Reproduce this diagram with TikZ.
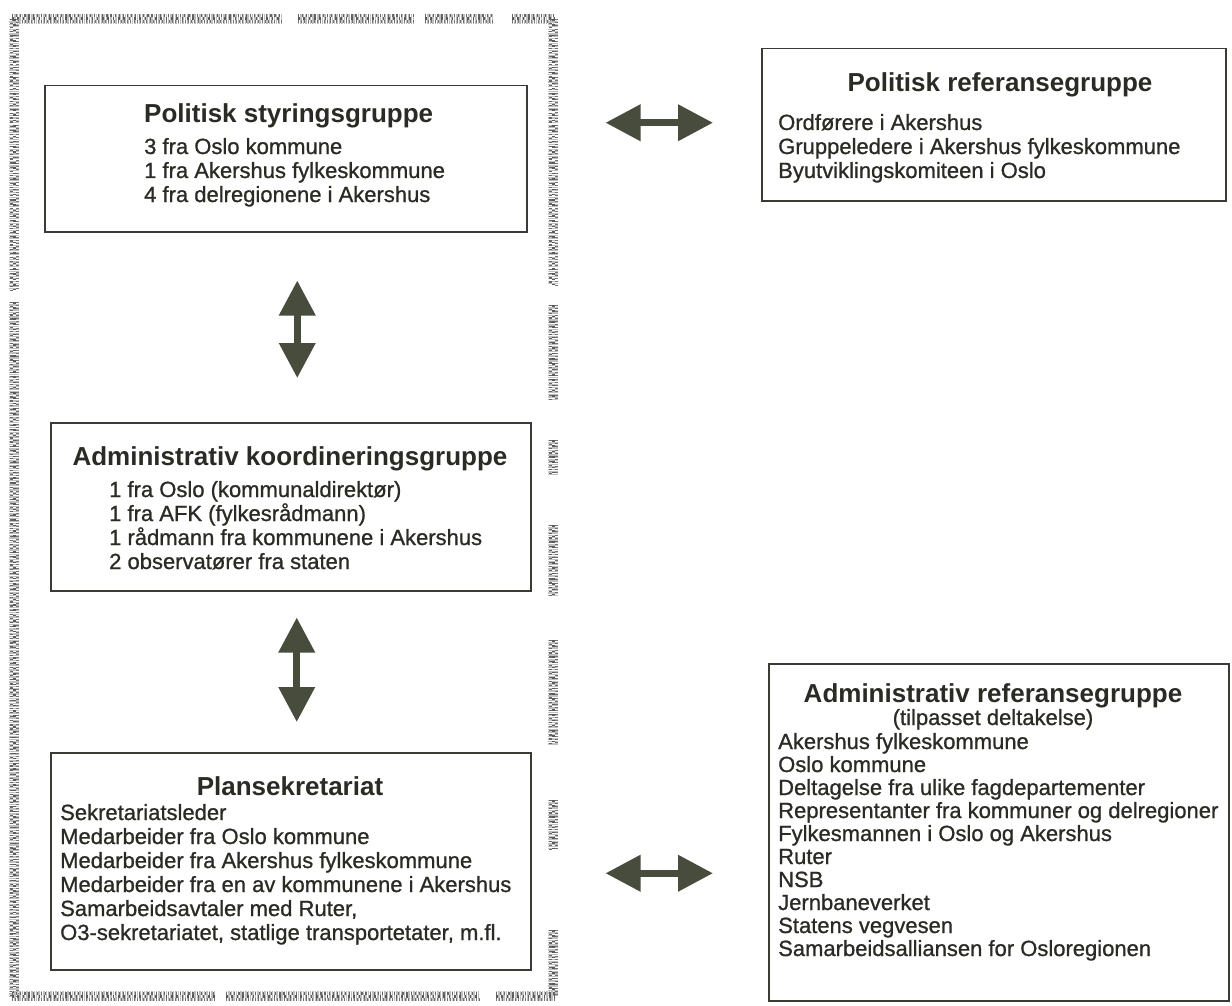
\documentclass[tikz,border=0pt]{standalone}
\usepackage{fontspec}
\setmainfont{Liberation Sans}
\newfontfamily\bodyfont{Liberation Sans}[FakeBold=0.9]
\usetikzlibrary{arrows.meta,calc}
\definecolor{ink}{HTML}{2A2B24}
\definecolor{arrowfill}{HTML}{474C3D}
\definecolor{frame}{HTML}{3A3A36}
\newcommand\grainH[3]{%
  \draw[grainA] (#1,#3) -- (#2,#3);
  \draw[grainB] (#1,#3-3) -- (#2,#3-3);
  \draw[grainC] (#1,#3+3) -- (#2,#3+3);
  \draw[grainD] (#1,#3) -- (#2,#3);}
\newcommand\grainV[3]{%
  \draw[grainA] (#3,#1) -- (#3,#2);
  \draw[grainB] (#3-3,#1) -- (#3-3,#2);
  \draw[grainC] (#3+3,#1) -- (#3+3,#2);
  \draw[grainD] (#3,#1) -- (#3,#2);}
\begin{document}
\begin{tikzpicture}[x=1pt,y=-1pt,
  box/.style={draw=frame, line width=1.5pt, fill=white, inner sep=0pt, anchor=north west},
  titletext/.style={font=\fontsize{26}{30}\selectfont\bfseries, text=ink, inner sep=0pt, anchor=base},
  bodytext/.style={font=\bodyfont\fontsize{22}{24}\selectfont, text=ink, inner sep=0pt, anchor=base west},
  dbl/.style={line width=7pt, draw=arrowfill, {Triangle[length=35pt,width=35pt]}-{Triangle[length=35pt,width=35pt]}},
  grainA/.style={line width=10pt, draw=black!25, dash pattern=on 1.3pt off 1.1pt},
  grainB/.style={line width=3pt, draw=black!60, dash pattern=on 1.2pt off 2.9pt},
  grainC/.style={line width=3pt, draw=black!55, dash pattern=on 0.9pt off 2.3pt},
  grainD/.style={line width=3pt, draw=black!65, dash pattern=on 1.6pt off 3.7pt},
]
\useasboundingbox (0,0) rectangle (1232,1006);
\fill[white] (0,0) rectangle (1232,1006);

% grainy frame round the left column
\foreach \a/\b in {12/282, 298/414, 425/493, 512/555}{\grainH{\a}{\b}{19}}
\foreach \a/\b in {19/290, 302/997}{\grainV{\a}{\b}{14}}
\foreach \a/\b in {19/285, 305/400, 440/475, 525/595, 640/745, 800/850, 930/997}{\grainV{\a}{\b}{553}}
\foreach \a/\b in {12/215, 226/480, 496/555}{\grainH{\a}{\b}{996}}

% boxes
\node[box, minimum width=482pt, minimum height=146pt] (ps) at (44,85) {};
\node[box, minimum width=480pt, minimum height=168pt] (ak) at (50,422) {};
\node[box, minimum width=480pt, minimum height=217pt] (pl) at (50,752) {};
\node[box, minimum width=464pt, minimum height=152pt] (rp) at (761,48) {};
\node[box, minimum width=460pt, minimum height=337pt] (ra) at (768,663) {};

% Politisk styringsgruppe
\node[titletext, anchor=base west] (ps-t) at (144,123) {Politisk styringsgruppe};
\foreach \t [count=\i from 0] in {3 fra Oslo kommune, 1 fra Akershus fylkeskommune, 4 fra delregionene i Akershus}
  \node[bodytext] (ps-\i) at (144,{154+24*\i}) {\t};

% Administrativ koordineringsgruppe
\node[titletext] (ak-t) at (290,465) {Administrativ koordineringsgruppe};
\foreach \t [count=\i from 0] in {1 fra Oslo (kommunaldirektør), 1 fra AFK (fylkesrådmann), 1 rådmann fra kommunene i Akershus, 2 observatører fra staten}
  \node[bodytext] (ak-\i) at (109,{497+24*\i}) {\t};

% Plansekretariat
\node[titletext] (pl-t) at (290,795) {Plansekretariat};
\foreach \t [count=\i from 0] in {Sekretariatsleder, Medarbeider fra Oslo kommune, Medarbeider fra Akershus fylkeskommune, Medarbeider fra en av kommunene i Akershus, {Samarbeidsavtaler med Ruter,}, {O3-sekretariatet, statlige transportetater, m.fl.}}
  \node[bodytext] (pl-\i) at (60,{820+24*\i}) {\t};

% Politisk referansegruppe
\node[titletext] (rp-t) at (1000,92) {Politisk referansegruppe};
\foreach \t [count=\i from 0] in {Ordførere i Akershus, Gruppeledere i Akershus fylkeskommune, Byutviklingskomiteen i Oslo}
  \node[bodytext] (rp-\i) at (778,{130+24*\i}) {\t};

% Administrativ referansegruppe
\node[titletext] (ra-t) at (993,702) {Administrativ referansegruppe};
\node[bodytext, anchor=base] (ra-s) at (993,725) {(tilpasset deltakelse)};
\foreach \t [count=\i from 0] in {Akershus fylkeskommune, Oslo kommune, Deltagelse fra ulike fagdepartementer, Representanter fra kommuner og delregioner, Fylkesmannen i Oslo og Akershus, Ruter, NSB, Jernbaneverket, Statens vegvesen, Samarbeidsalliansen for Osloregionen}
  \node[bodytext] (ra-\i) at (778,{749+23*\i}) {\t};

% connectors
\draw[dbl, shorten <=48pt, shorten >=44pt] ([xshift=11.5pt]ps.south) -- ([xshift=11.5pt]ps.south |- ak.north);
\draw[dbl, shorten <=26pt, shorten >=30pt] ([xshift=6pt]ak.south) -- ([xshift=6pt]ak.south |- pl.north);
\draw[dbl, shorten <=78pt, shorten >=48pt] ([yshift=2pt]ps.east |- rp.west) -- ([yshift=2pt]rp.west);
\draw[dbl, shorten <=74pt, shorten >=55pt] ([yshift=-12pt]pl.east) -- ([yshift=-12pt]pl.east -| ra.west);
\end{tikzpicture}
\end{document}
